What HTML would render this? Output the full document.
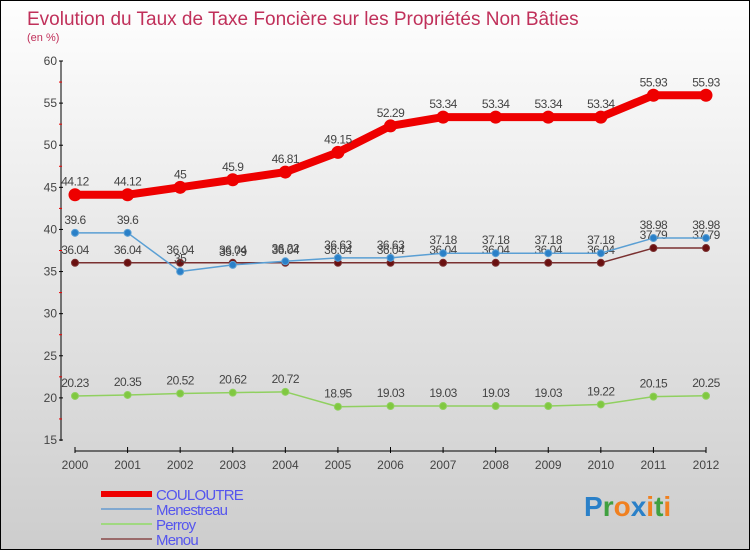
<!DOCTYPE html>
<html><head><meta charset="utf-8"><style>
body{margin:0}
#c{width:748px;height:548px;border:1px solid #000;background:linear-gradient(#fefefe,#cdcdcd);position:relative;font-family:"Liberation Sans",sans-serif;overflow:hidden}
</style></head><body>
<div id="c">
<svg id="s" width="748" height="548"></svg>
</div>
<script>
const years=[2000,2001,2002,2003,2004,2005,2006,2007,2008,2009,2010,2011,2012];
const couloutre=[44.12,44.12,45,45.9,46.81,49.15,52.29,53.34,53.34,53.34,53.34,55.93,55.93];
const menestreau=[39.6,39.6,35,35.79,36.22,36.63,36.63,37.18,37.18,37.18,37.18,38.98,38.98];
const perroy=[20.23,20.35,20.52,20.62,20.72,18.95,19.03,19.03,19.03,19.03,19.22,20.15,20.25];
const menou=[36.04,36.04,36.04,36.04,36.04,36.04,36.04,36.04,36.04,36.04,36.04,37.79,37.79];
const yTicks=[15,20,25,30,35,40,45,50,55,60];
const NS="http://www.w3.org/2000/svg";const s=document.getElementById('s');
const X=i=>74+i*(631/12);const Y=v=>60+(60-v)*(379/45);
function el(t,a,p){const e=document.createElementNS(NS,t);for(const k in a)e.setAttribute(k,a[k]);(p||s).appendChild(e);return e;}
function tx(x,y,str,a){const e=el('text',Object.assign({x:x,y:y},a));e.textContent=str;return e;}
let t=tx(26,24,"Evolution du Taux de Taxe Foncière sur les Propriétés Non Bâties",{fill:"#c0305a","font-size":19});

t=tx(26,40,"(en %)",{fill:"#c0305a","font-size":11});

// axes
let a=el('line',{x1:60,y1:60,x2:60,y2:440,stroke:"#000"});
a=el('line',{x1:74,y1:450,x2:705,y2:450,stroke:"#000"});
yTicks.forEach(v=>{el('line',{x1:58,y1:Y(v),x2:62,y2:Y(v),stroke:"#000"});
 let l=tx(56,Y(v)+4,v,{fill:"#444","font-size":12,"text-anchor":"end"});
 if(v<60)el('line',{x1:58,y1:Y(v+2.5),x2:61,y2:Y(v+2.5),stroke:"#e00"});});
years.forEach((y,i)=>{el('line',{x1:X(i),y1:446,x2:X(i),y2:452,stroke:"#000"});
 let l=tx(X(i),468,y,{fill:"#444","font-size":12,"text-anchor":"middle"});});
function series(d,name,col,w,r,dot,lc){
 const g=el('g',{});
 el('polyline',{points:d.map((v,i)=>X(i)+","+Y(v)).join(" "),fill:"none",stroke:col,"stroke-width":w,"stroke-linejoin":"round"},g);
 d.forEach((v,i)=>{const c=el('circle',{cx:X(i),cy:Y(v),r:r,fill:dot,stroke:col},g);
  tx(X(i),Y(v)-9,v,{fill:"#444","font-size":12,"text-anchor":"middle","letter-spacing":"-0.5"},g);});
}
series(menou,'menou',"#7a3030",1.5,3.5,"#6a1010");
series(menestreau,'menestreau',"#5a9fd4",1.5,3.5,"#2a80c8");
series(perroy,'perroy',"#90d060",1.5,3.5,"#80c840");
series(couloutre,'couloutre',"#ee0000",8,6,"#ee0000");
// legend
const leg=[["COULOUTRE","#ee0000",6],["Menestreau","#80a8d0",2],["Perroy","#a0d880",2],["Menou","#9a6a6a",2]];
leg.forEach((l,i)=>{const g=el('g',{});
 el('line',{x1:100,y1:493+i*15,x2:151,y2:493+i*15,stroke:l[1],"stroke-width":l[2]},g);
 tx(155,499+i*15,l[0],{fill:"#5555ee","font-size":15,"letter-spacing":"-0.8"},g);});
const lg=el('text',{x:583,y:515,"font-size":28,"font-weight":"bold","font-family":"Liberation Sans, sans-serif"});

[["P","#2a80c8"],["r","#40a040"],["o","#f08020"],["x","#2a80c8"],["i","#f08020"],["t","#40a040"],["i","#f08020"]].forEach(p=>{const ts=el('tspan',{fill:p[1]},lg);ts.textContent=p[0];});
</script>
</body></html>
